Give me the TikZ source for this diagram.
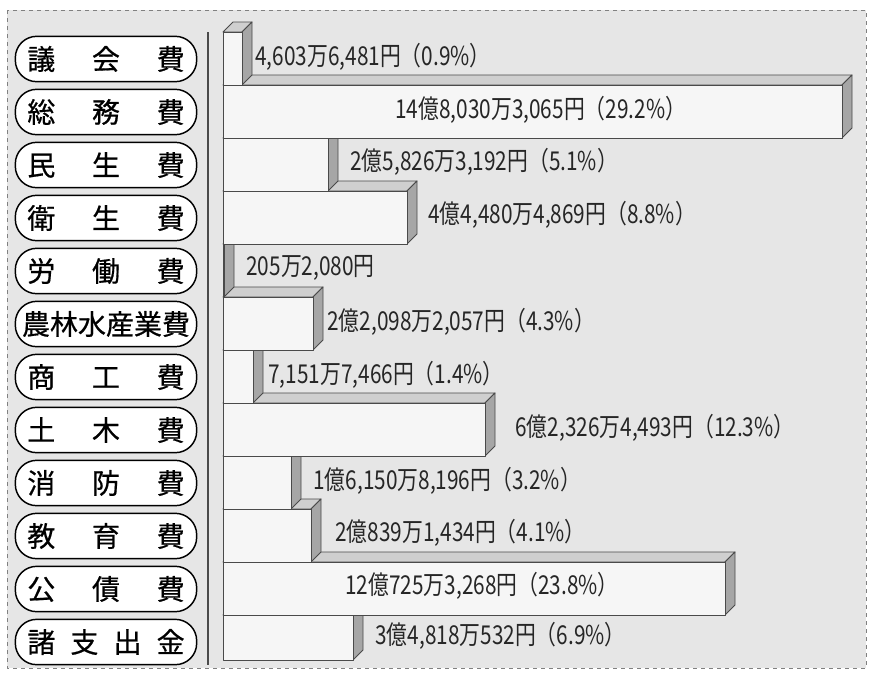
\documentclass[tikz,border=0pt]{standalone}
\usepackage{fontspec}
\setmainfont{Noto Sans CJK JP}
\newfontfamily\labelfont[FakeBold=0.6]{Noto Sans CJK JP}
\usetikzlibrary{positioning}

\definecolor{paper}{HTML}{E6E6E6}
\definecolor{barfront}{HTML}{F6F6F6}
\definecolor{bartop}{HTML}{CFCFCF}
\definecolor{barside}{HTML}{A6A6A6}
\definecolor{edge}{HTML}{4A4A4A}

\begin{document}
\begin{tikzpicture}[
    x = 0.75pt,
    y = -0.75pt,
    line join = round,
    semithick
]

% Setup the styles for the labels, bars and amounts
\tikzstyle{pill}=[draw=black, fill=white, line width=1.1pt, rounded corners=16pt, minimum width=136pt, minimum height=34pt, inner sep=0pt, font=\fontsize{21}{21}\labelfont]
\tikzstyle{front}=[draw=edge, fill=barfront, line width=0.7pt]
\tikzstyle{topface}=[draw=edge, fill=bartop, line width=0.7pt]
\tikzstyle{sideface}=[draw=edge, fill=barside, line width=0.7pt]
\tikzstyle{amount}=[anchor=west, inner sep=0pt, text=black!85, font=\fontsize{19.5}{19.5}\selectfont]

\useasboundingbox (0,0) rectangle (877,675);

% Draw the background panel and the axis
\draw[dashed, draw=gray, fill=paper] (7,10) rectangle (866,668);
\coordinate (axtop) at (208,32);
\coordinate (axbot) at (208,665);
\draw[edge, line width=0.9pt] (axtop) -- (axbot);

% Draw the bars, bottom first
\foreach \i/\w in {12/130, 11/502, 10/88, 9/68, 8/262, 7/30, 6/90, 5/1, 4/184, 3/105, 2/619, 1/19} {
    \pgfmathsetmacro{\t}{32+53*(\i-1)}
    \pgfmathsetmacro{\b}{min(32+53*\i,660)}
    \pgfmathsetmacro{\r}{223+\w}
    \draw[topface] (223,\t) -- (233,\t-10) -- (\r+10,\t-10) -- (\r,\t) -- cycle;
    \draw[sideface] (\r,\t) -- (\r+10,\t-10) -- (\r+10,\b-10) -- (\r,\b) -- cycle;
    \draw[front] (223,\t) rectangle (\r,\b);
}

% Draw the labels
\foreach \i/\name in {1/{議\hfill 会\hfill 費}, 2/{総\hfill 務\hfill 費}, 3/{民\hfill 生\hfill 費}, 4/{衛\hfill 生\hfill 費}, 5/{労\hfill 働\hfill 費}, 6/{農\hfill 林\hfill 水\hfill 産\hfill 業\hfill 費}, 7/{商\hfill 工\hfill 費}, 8/{土\hfill 木\hfill 費}, 9/{消\hfill 防\hfill 費}, 10/{教\hfill 育\hfill 費}, 11/{公\hfill 債\hfill 費}, 12/{諸\hfill 支\hfill 出\hfill 金}}
    \node[pill] (l\i) at (106,{59+53*(\i-1)}) {\makebox[118pt]{\name}};

% Draw the amounts
\foreach \i/\x/\y/\txt in {1/255/57/{4,603万6,481円（0.9\%）}, 2/395/110/{14億8,030万3,065円（29.2\%）}, 3/350/162/{2億5,826万3,192円（5.1\%）}, 4/428/215/{4億4,480万4,869円（8.8\%）}, 5/246/268/{205万2,080円}, 6/327/322/{2億2,098万2,057円（4.3\%）}, 7/268/375/{7,151万7,466円（1.4\%）}, 8/515/428/{6億2,326万4,493円（12.3\%）}, 9/313/481/{1億6,150万8,196円（3.2\%）}, 10/335/533/{2億839万1,434円（4.1\%）}, 11/345/586/{12億725万3,268円（23.8\%）}, 12/375/636/{3億4,818万532円（6.9\%）}}
    \node[amount] (v\i) at (\x,\y) {\scalebox{0.8}[1]{\txt}};

\end{tikzpicture}
\end{document}
